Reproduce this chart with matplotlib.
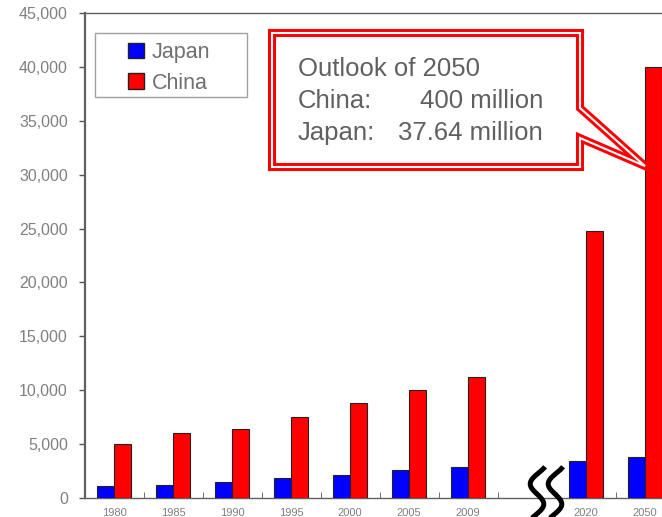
import numpy as np
import matplotlib
matplotlib.use("Agg")
import matplotlib.pyplot as plt
from matplotlib.patches import Patch, Polygon, Rectangle
from matplotlib.ticker import FuncFormatter

plt.rcParams['font.family'] = ['Liberation Sans', 'DejaVu Sans']

years = ["1980", "1985", "1990", "1995", "2000", "2005", "2009", "2020", "2050"]
slots = [0, 1, 2, 3, 4, 5, 6, 8, 9]   # slot 7 left empty for the axis break
japan = [1100, 1250, 1470, 1850, 2170, 2600, 2900, 3450, 3764]
china = [5000, 6000, 6400, 7500, 8800, 10000, 11200, 24800, 40000]

callout_title = "Outlook of 2050"
callout_rows = [("China:", "400 million"), ("Japan:", "37.64 million")]
callout_value = 30800   # where the arrow meets the 2050 China bar

W, H = 662, 517
fig = plt.figure(figsize=(W / 100, H / 100), dpi=100)
ax = fig.add_axes([84.5 / W, (H - 498) / H, 590 / W, (498 - 13) / H])

bw = 0.29
x = np.array(slots, dtype=float)
ax.bar(x - bw / 2, japan, bw, color="#0000ff", edgecolor="#222222", linewidth=0.8, zorder=3)
ax.bar(x + bw / 2, china, bw, color="#ff0000", edgecolor="#222222", linewidth=0.8, zorder=3)

ax.set_xlim(-0.5, 9.5)
ax.set_ylim(0, 45000)
ax.set_yticks(np.arange(0, 45001, 5000))
ax.yaxis.set_major_formatter(FuncFormatter(lambda v, p: f"{int(v):,}"))
ax.tick_params(axis="y", colors="#555555", labelcolor="#808080", labelsize=11.5,
               length=4, width=1, pad=8)
ax.set_xticks(x)
ax.set_xticklabels(years)
ax.tick_params(axis="x", which="major", length=0, labelsize=8, labelcolor="#808080", pad=7)
ax.set_xticks(np.arange(0.5, 9, 1.0), minor=True)
ax.tick_params(axis="x", which="minor", direction="in", length=4, color="#555555")

for s in ["left", "top", "bottom", "right"]:
    ax.spines[s].set_color("#606060")
ax.spines["left"].set_linewidth(1.6)
ax.spines["top"].set_linewidth(1.0)
ax.spines["bottom"].set_linewidth(1.0)
ax.spines["right"].set_linewidth(1.0)

# unit label, almost entirely above the visible area as in the source
fig.text(102 / W, 1 + 3.5 / H, "(10 thousand people)", fontsize=12.8, color="#808080",
         va="baseline", ha="left")

# legend: separate frame plus frameless legend inside it
fig.patches.append(Rectangle((95 / W, 1 - 97 / H), 152 / W, 64 / H, facecolor="white",
                             edgecolor="#a0a0a0", linewidth=1.0, transform=fig.transFigure,
                             figure=fig, zorder=4))
handles = [Patch(facecolor="#0000ff", edgecolor="#222222", label="Japan"),
           Patch(facecolor="#ff0000", edgecolor="#222222", label="China")]
leg = fig.legend(handles=handles, loc="upper left", bbox_to_anchor=(128 / W, 1 - 42 / H),
                 borderaxespad=0, fontsize=15.5, handlelength=0.75, handleheight=0.75,
                 handletextpad=0.35, borderpad=0.0, labelspacing=0.45,
                 labelcolor="#707070", frameon=False)
leg.set_zorder(5)

# callout box with double red border, pointer anchored to 2050 China bar
fig.canvas.draw()
tip = ax.transData.transform((9.0, callout_value))
tip_px = (tip[0], H - tip[1])
pts = [(272, 33), (580, 33), (580, 108), tip_px, (580, 138), (580, 167), (272, 167)]
pts = [(px / W, 1 - py / H) for px, py in pts]
fig.patches.append(Polygon(pts, closed=True, facecolor="white", edgecolor="#ff0000",
                           linewidth=5.8, joinstyle="miter", transform=fig.transFigure,
                           figure=fig, zorder=5))
fig.patches.append(Polygon(pts, closed=True, facecolor="none", edgecolor="white",
                           linewidth=1.5, joinstyle="miter", transform=fig.transFigure,
                           figure=fig, zorder=6))

tcol = "#606060"
fig.text(298 / W, 1 - 76 / H, callout_title, fontsize=18.5, color=tcol, va="baseline",
         ha="left", zorder=7)
for i, (lab, val) in enumerate(callout_rows):
    yb = 1 - (108 + 32 * i) / H
    fig.text(298 / W, yb, lab, fontsize=18.5, color=tcol, va="baseline", ha="left", zorder=7)
    fig.text(543 / W, yb, val, fontsize=18.5, color=tcol, va="baseline", ha="right", zorder=7)

# axis break: two S-shaped squiggles at the empty slot
gap = ax.transData.transform((7.0, 0))
s = np.linspace(-0.15, 1.15, 80)
for dx in (0, 18):
    cx = gap[0] + 10 + dx
    xs = cx - 7.5 * np.sin(2 * np.pi * s) - 3 * (s - 0.5)
    ys = (gap[1] + 25) - 42 * s
    fig.add_artist(plt.Line2D(xs / W, ys / H, color="black", linewidth=3.6,
                              solid_capstyle="butt", transform=fig.transFigure, zorder=8))

fig.savefig("out.png", dpi=100)
